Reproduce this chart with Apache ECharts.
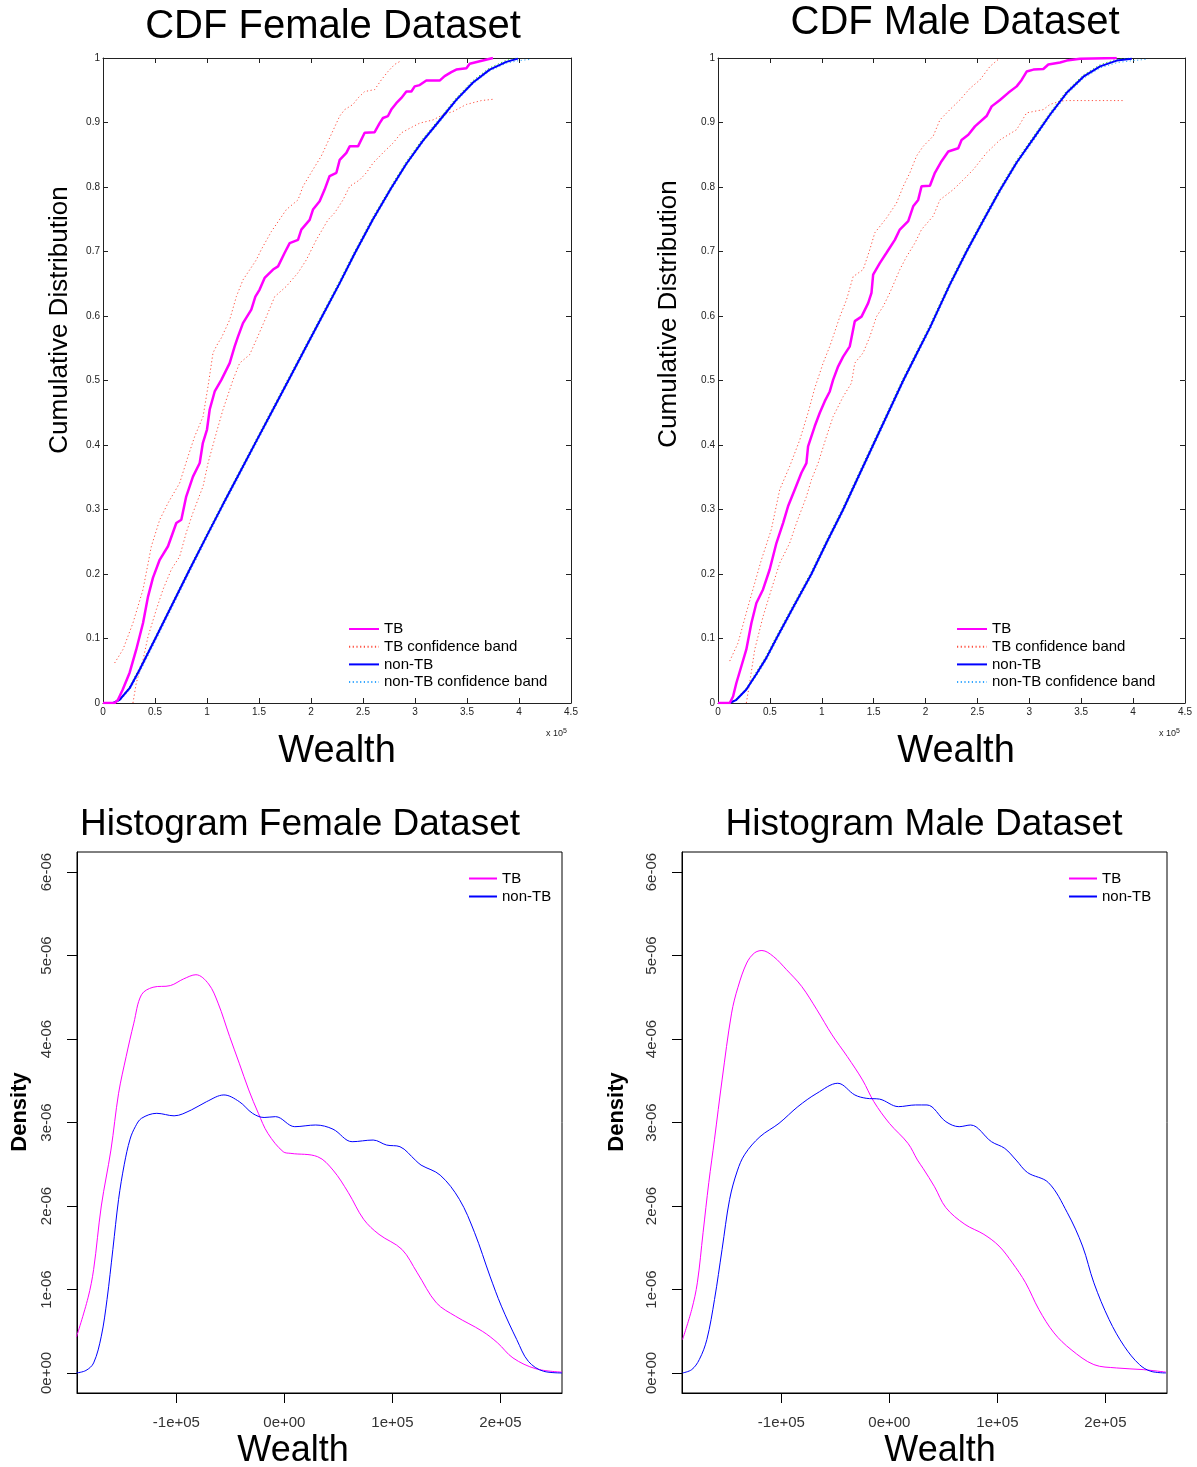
<!DOCTYPE html>
<html>
<head>
<meta charset="utf-8">
<script src="https://cdn.jsdelivr.net/npm/echarts@6/dist/echarts.min.js"></script>
<style>
  html, body { margin: 0; padding: 0; background: #fff; }
  #main { width: 1197px; height: 1467px; }
</style>
</head>
<body>
<div id="main"></div>
<script>
var chartDom = document.getElementById('main')
var myChart = echarts.init(chartDom)
var option

// CDF panels: x in units of 1e5, y cumulative share
var femaleTB = [[0,0],[0.112,0],[0.144,0.005],[0.19,0.021],[0.256,0.047],[0.32,0.083],[0.385,0.124],[0.433,0.165],[0.48,0.194],[0.545,0.222],[0.625,0.243],[0.705,0.279],[0.753,0.284],[0.80,0.32],[0.865,0.351],[0.93,0.372],[0.96,0.403],[1.0,0.424],[1.026,0.455],[1.074,0.483],[1.138,0.501],[1.218,0.527],[1.266,0.553],[1.298,0.568],[1.346,0.589],[1.426,0.610],[1.465,0.630],[1.506,0.641],[1.554,0.659],[1.635,0.672],[1.683,0.677],[1.747,0.698],[1.795,0.713],[1.875,0.718],[1.907,0.734],[1.987,0.749],[2.019,0.765],[2.083,0.778],[2.131,0.796],[2.179,0.817],[2.244,0.822],[2.276,0.842],[2.34,0.853],[2.372,0.863],[2.452,0.863],[2.516,0.884],[2.612,0.885],[2.66,0.899],[2.692,0.907],[2.74,0.91],[2.772,0.92],[2.82,0.93],[2.869,0.938],[2.917,0.948],[2.965,0.948],[2.997,0.956],[3.045,0.958],[3.109,0.965],[3.237,0.965],[3.285,0.972],[3.349,0.978],[3.397,0.982],[3.494,0.984],[3.526,0.991],[3.622,0.995],[3.75,1.0]]
var femaleTBUpper = [[0.112,0.062],[0.192,0.083],[0.288,0.124],[0.385,0.176],[0.465,0.243],[0.545,0.284],[0.625,0.310],[0.737,0.341],[0.817,0.382],[0.881,0.413],[0.962,0.444],[1.01,0.491],[1.058,0.543],[1.106,0.558],[1.138,0.566],[1.218,0.594],[1.282,0.630],[1.346,0.656],[1.474,0.687],[1.522,0.703],[1.619,0.731],[1.763,0.765],[1.875,0.780],[1.923,0.801],[2.019,0.827],[2.099,0.848],[2.179,0.876],[2.276,0.91],[2.324,0.92],[2.404,0.928],[2.452,0.938],[2.516,0.948],[2.612,0.951],[2.676,0.966],[2.74,0.979],[2.804,0.99],[2.869,0.996]]
var femaleTBLower = [[0.288,0],[0.32,0.031],[0.385,0.067],[0.433,0.103],[0.513,0.145],[0.577,0.176],[0.657,0.207],[0.737,0.227],[0.80,0.264],[0.865,0.295],[0.962,0.336],[1.01,0.372],[1.09,0.419],[1.154,0.455],[1.25,0.501],[1.314,0.527],[1.41,0.54],[1.474,0.563],[1.571,0.599],[1.651,0.630],[1.763,0.646],[1.875,0.667],[1.955,0.687],[2.051,0.718],[2.163,0.749],[2.228,0.760],[2.308,0.780],[2.372,0.801],[2.468,0.811],[2.532,0.822],[2.596,0.837],[2.692,0.853],[2.788,0.868],[2.869,0.884],[2.949,0.891],[3.045,0.899],[3.173,0.904],[3.269,0.912],[3.365,0.917],[3.494,0.928],[3.638,0.934],[3.75,0.936]]
var femaleNonTB = [[0,0],[0.096,0],[0.16,0.005],[0.256,0.023],[0.353,0.052],[0.513,0.103],[0.673,0.155],[0.833,0.207],[0.994,0.258],[1.154,0.308],[1.314,0.357],[1.474,0.406],[1.635,0.455],[1.795,0.504],[1.955,0.553],[2.115,0.602],[2.276,0.651],[2.42,0.697],[2.596,0.75],[2.77,0.798],[2.917,0.836],[3.077,0.872],[3.22,0.90],[3.397,0.935],[3.558,0.962],[3.718,0.982],[3.878,0.994],[3.99,0.999]]
var femaleNonTBUpper = [[0,0],[0.09,0],[0.155,0.005],[0.25,0.024],[0.35,0.054],[0.51,0.105],[0.67,0.157],[0.83,0.209],[0.99,0.26],[1.15,0.31],[1.31,0.359],[1.47,0.408],[1.63,0.457],[1.79,0.506],[1.95,0.555],[2.11,0.604],[2.27,0.653],[2.415,0.699],[2.59,0.752],[2.765,0.80],[2.91,0.838],[3.07,0.874],[3.215,0.902],[3.39,0.937],[3.55,0.964],[3.71,0.984],[3.87,0.996],[3.98,1.0]]
var femaleNonTBLower = [[0,0],[0.10,0],[0.165,0.004],[0.26,0.021],[0.36,0.05],[0.52,0.101],[0.68,0.153],[0.84,0.205],[1.0,0.256],[1.16,0.306],[1.32,0.355],[1.48,0.404],[1.64,0.453],[1.80,0.502],[1.96,0.551],[2.12,0.60],[2.28,0.649],[2.425,0.695],[2.60,0.748],[2.775,0.796],[2.92,0.834],[3.08,0.87],[3.225,0.898],[3.40,0.933],[3.56,0.96],[3.72,0.98],[3.88,0.992],[4.0,0.996],[4.12,0.998]]

var maleTB = [[0,0],[0.113,0],[0.145,0.01],[0.177,0.031],[0.225,0.057],[0.273,0.083],[0.322,0.124],[0.37,0.155],[0.434,0.176],[0.498,0.207],[0.563,0.248],[0.627,0.279],[0.675,0.305],[0.74,0.331],[0.804,0.357],[0.852,0.372],[0.868,0.398],[0.932,0.429],[0.981,0.450],[1.029,0.468],[1.077,0.483],[1.109,0.501],[1.158,0.522],[1.206,0.537],[1.27,0.553],[1.286,0.566],[1.318,0.592],[1.383,0.599],[1.447,0.62],[1.479,0.636],[1.495,0.664],[1.559,0.682],[1.624,0.698],[1.704,0.718],[1.752,0.734],[1.833,0.747],[1.881,0.770],[1.929,0.780],[1.961,0.801],[2.042,0.802],[2.09,0.822],[2.154,0.840],[2.219,0.855],[2.315,0.860],[2.347,0.873],[2.412,0.881],[2.476,0.894],[2.588,0.91],[2.637,0.925],[2.717,0.935],[2.797,0.946],[2.878,0.956],[2.926,0.966],[2.974,0.979],[3.039,0.982],[3.135,0.983],[3.183,0.99],[3.296,0.993],[3.36,0.996],[3.489,0.999],[3.842,1.0]]
var maleTBUpper = [[0.113,0.065],[0.193,0.093],[0.273,0.14],[0.354,0.186],[0.418,0.222],[0.514,0.269],[0.595,0.331],[0.691,0.367],[0.788,0.408],[0.868,0.45],[0.932,0.488],[1.013,0.527],[1.077,0.553],[1.109,0.568],[1.174,0.599],[1.238,0.625],[1.302,0.661],[1.399,0.672],[1.463,0.703],[1.511,0.729],[1.624,0.752],[1.72,0.775],[1.785,0.801],[1.849,0.822],[1.913,0.848],[1.977,0.863],[2.074,0.879],[2.138,0.904],[2.235,0.92],[2.331,0.935],[2.428,0.953],[2.524,0.966],[2.621,0.987],[2.717,1.0]]
var maleTBLower = [[0.273,0],[0.305,0.031],[0.354,0.083],[0.434,0.134],[0.514,0.176],[0.595,0.217],[0.691,0.248],[0.756,0.279],[0.852,0.32],[0.9,0.346],[0.965,0.372],[1.045,0.413],[1.109,0.444],[1.206,0.475],[1.286,0.496],[1.318,0.527],[1.399,0.543],[1.463,0.568],[1.527,0.599],[1.592,0.615],[1.656,0.636],[1.752,0.672],[1.817,0.692],[1.897,0.713],[1.961,0.734],[2.074,0.755],[2.138,0.780],[2.267,0.796],[2.363,0.811],[2.46,0.827],[2.588,0.853],[2.717,0.873],[2.878,0.889],[2.974,0.915],[3.135,0.92],[3.199,0.928],[3.296,0.933],[3.36,0.934],[3.907,0.934]]
var maleNonTB = [[0,0],[0.113,0],[0.177,0.005],[0.273,0.021],[0.37,0.045],[0.466,0.07],[0.563,0.10],[0.73,0.15],[0.9,0.20],[1.05,0.25],[1.206,0.30],[1.35,0.35],[1.495,0.40],[1.64,0.45],[1.785,0.50],[1.913,0.541],[2.042,0.582],[2.14,0.616],[2.235,0.649],[2.395,0.70],[2.556,0.748],[2.717,0.795],[2.878,0.838],[3.039,0.875],[3.199,0.912],[3.36,0.946],[3.521,0.971],[3.682,0.987],[3.842,0.996],[3.987,0.999]]
var maleNonTBUpper = [[0,0],[0.108,0],[0.172,0.006],[0.268,0.022],[0.365,0.047],[0.46,0.072],[0.557,0.102],[0.724,0.152],[0.894,0.202],[1.044,0.252],[1.2,0.302],[1.344,0.352],[1.489,0.402],[1.634,0.452],[1.779,0.502],[1.907,0.543],[2.036,0.584],[2.134,0.618],[2.229,0.651],[2.389,0.702],[2.55,0.75],[2.711,0.797],[2.872,0.84],[3.033,0.877],[3.193,0.914],[3.354,0.948],[3.515,0.973],[3.676,0.989],[3.836,0.998],[3.98,1.0]]
var maleNonTBLower = [[0,0],[0.118,0],[0.182,0.004],[0.278,0.02],[0.375,0.043],[0.472,0.068],[0.569,0.098],[0.736,0.148],[0.906,0.198],[1.056,0.248],[1.212,0.298],[1.356,0.348],[1.501,0.398],[1.646,0.448],[1.791,0.498],[1.919,0.539],[2.048,0.58],[2.146,0.614],[2.241,0.647],[2.401,0.698],[2.562,0.746],[2.723,0.793],[2.884,0.836],[3.045,0.873],[3.205,0.91],[3.366,0.944],[3.527,0.969],[3.688,0.985],[3.85,0.993],[4.0,0.996],[4.13,0.998]]

// density panels: x in units of 1e5, y in units of 1e-6
var histXTicks = [-1, 0, 1, 2]
var histYTicks = [0, 1, 2, 3, 4, 5, 6]

var femaleDensTB = [[-1.925,0.43],[-1.818,0.90],[-1.766,1.24],[-1.695,2.0],[-1.606,2.67],[-1.535,3.35],[-1.465,3.79],[-1.394,4.19],[-1.323,4.53],[-1.216,4.62],[-1.056,4.64],[-0.933,4.72],[-0.819,4.77],[-0.702,4.66],[-0.614,4.43],[-0.507,4.03],[-0.418,3.71],[-0.33,3.39],[-0.241,3.11],[-0.153,2.87],[-0.011,2.65],[0.06,2.63],[0.308,2.59],[0.45,2.43],[0.592,2.16],[0.734,1.84],[0.876,1.66],[1.088,1.48],[1.23,1.20],[1.407,0.84],[1.584,0.68],[1.832,0.50],[1.974,0.36],[2.116,0.18],[2.329,0.05],[2.57,0.01]]
var femaleDensNonTB = [[-1.925,0.0],[-1.837,0.03],[-1.766,0.12],[-1.695,0.44],[-1.642,0.88],[-1.588,1.48],[-1.535,2.08],[-1.482,2.50],[-1.429,2.80],[-1.38,2.95],[-1.323,3.05],[-1.181,3.11],[-1.021,3.08],[-0.862,3.15],[-0.72,3.25],[-0.56,3.33],[-0.418,3.25],[-0.295,3.11],[-0.188,3.06],[-0.082,3.07],[0.096,2.95],[0.29,2.97],[0.45,2.92],[0.627,2.77],[0.822,2.79],[0.946,2.73],[1.07,2.71],[1.212,2.55],[1.265,2.49],[1.442,2.37],[1.62,2.08],[1.761,1.68],[1.903,1.16],[2.009,0.80],[2.151,0.40],[2.258,0.14],[2.4,0.02],[2.57,0.0]]
var maleDensTB = [[-1.915,0.40],[-1.83,0.76],[-1.778,1.08],[-1.725,1.68],[-1.672,2.28],[-1.619,2.80],[-1.549,3.51],[-1.461,4.31],[-1.402,4.62],[-1.321,4.91],[-1.25,5.03],[-1.18,5.06],[-1.075,4.99],[-0.952,4.83],[-0.812,4.63],[-0.671,4.35],[-0.531,4.05],[-0.39,3.79],[-0.249,3.51],[-0.144,3.25],[0.0,2.99],[0.172,2.75],[0.26,2.55],[0.312,2.45],[0.418,2.23],[0.523,1.98],[0.699,1.78],[0.875,1.66],[1.015,1.52],[1.138,1.32],[1.261,1.08],[1.384,0.76],[1.524,0.48],[1.682,0.28],[1.893,0.10],[2.104,0.06],[2.35,0.04],[2.56,0.01]]
var maleDensNonTB = [[-1.915,0.0],[-1.83,0.04],[-1.76,0.16],[-1.69,0.40],[-1.619,0.88],[-1.549,1.48],[-1.479,2.08],[-1.408,2.42],[-1.338,2.62],[-1.198,2.83],[-1.022,2.99],[-0.847,3.19],[-0.671,3.35],[-0.478,3.47],[-0.32,3.33],[-0.215,3.29],[-0.091,3.28],[0.084,3.19],[0.242,3.21],[0.348,3.21],[0.523,3.01],[0.646,2.95],[0.752,2.97],[0.945,2.77],[1.068,2.69],[1.173,2.55],[1.279,2.40],[1.472,2.28],[1.647,1.92],[1.788,1.52],[1.893,1.08],[2.034,0.64],[2.174,0.32],[2.315,0.10],[2.42,0.02],[2.56,0.0]]

var FONT = 'Liberation Sans, Arial, sans-serif'
var cdfLegendNames = ['TB', 'TB confidence band', 'non-TB', 'non-TB confidence band']
var histLegendNames = ['TB', 'non-TB']

function cdfX(gridIndex) {
  return [
    {
      gridIndex: gridIndex, type: 'value', min: 0, max: 4.5, interval: 0.5, position: 'bottom',
      axisLine: { onZero: false, lineStyle: { color: '#222', width: 1 } },
      axisTick: { inside: true, length: 5, lineStyle: { color: '#222' } },
      axisLabel: { margin: 4, fontSize: 10, fontFamily: FONT, color: '#222', showMinLabel: true, showMaxLabel: true },
      splitLine: { show: false }
    },
    {
      gridIndex: gridIndex, type: 'value', min: 0, max: 4.5, interval: 0.5, position: 'top',
      axisLine: { onZero: false, lineStyle: { color: '#222', width: 1 } },
      axisTick: { inside: true, length: 5, lineStyle: { color: '#222' } },
      axisLabel: { show: false }, splitLine: { show: false }
    }
  ]
}
function cdfY(gridIndex) {
  return [
    {
      gridIndex: gridIndex, type: 'value', min: 0, max: 1, interval: 0.1, position: 'left',
      axisLine: { show: true, onZero: false, lineStyle: { color: '#222', width: 1 } },
      axisTick: { show: true, inside: true, length: 5, lineStyle: { color: '#222' } },
      axisLabel: {
        margin: 3, fontSize: 10, fontFamily: FONT, color: '#222',
        formatter: function (v) { return v === 0 ? '0' : v === 1 ? '1' : v.toFixed(1) }
      },
      splitLine: { show: false }
    },
    {
      gridIndex: gridIndex, type: 'value', min: 0, max: 1, interval: 0.1, position: 'right',
      axisLine: { show: true, onZero: false, lineStyle: { color: '#222', width: 1 } },
      axisTick: { show: true, inside: true, length: 5, lineStyle: { color: '#222' } },
      axisLabel: { show: false }, splitLine: { show: false }
    }
  ]
}
function histX(gridIndex) {
  return {
    gridIndex: gridIndex, type: 'value', min: -1.92, max: 2.57,
    axisLine: { onZero: false, lineStyle: { color: '#000', width: 1 } },
    axisTick: { length: 10, customValues: histXTicks, lineStyle: { color: '#000' } },
    axisLabel: {
      margin: 22, fontSize: 15, fontFamily: FONT, color: '#333', customValues: histXTicks,
      formatter: function (v) { return v === 0 ? '0e+00' : (v < 0 ? '-' : '') + Math.abs(v) + 'e+05' }
    },
    splitLine: { show: false }
  }
}
function histY(gridIndex) {
  return {
    gridIndex: gridIndex, type: 'value', min: -0.24, max: 6.24,
    axisLine: { show: true, onZero: false, lineStyle: { color: '#000', width: 1 } },
    axisTick: { show: true, length: 10, customValues: histYTicks, lineStyle: { color: '#000' } },
    axisLabel: {
      rotate: 90, margin: 23, fontSize: 15, fontFamily: FONT, color: '#333', customValues: histYTicks,
      formatter: function (v) { return v === 0 ? '0e+00' : v + 'e-06' }
    },
    splitLine: { show: false }
  }
}

function line(name, data, xi, yi, color, width, dotted, z, smooth) {
  return {
    name: name, type: 'line', xAxisIndex: xi, yAxisIndex: yi, data: data,
    symbol: 'none', smooth: smooth || false, silent: true, z: z || 2,
    lineStyle: { color: color, width: width, type: dotted ? [1.2, 2.5] : 'solid' },
    itemStyle: { color: color }
  }
}

function cdfLegend(left) {
  return {
    data: cdfLegendNames, orient: 'vertical', left: left, top: 621.5, padding: 0,
    itemWidth: 30, itemHeight: 12, itemGap: 2.7, itemTextGap: 5,
    itemStyle: { opacity: 0 },
    textStyle: { fontSize: 15, lineHeight: 15, fontFamily: FONT, color: '#000' },
    selectedMode: false
  }
}
function histLegend(left) {
  return {
    data: histLegendNames, orient: 'vertical', left: left, top: 871, padding: 0,
    itemWidth: 28, itemHeight: 12, itemGap: 3, itemTextGap: 3,
    itemStyle: { opacity: 0 },
    textStyle: { fontSize: 15, lineHeight: 15, fontFamily: FONT, color: '#000' },
    selectedMode: false
  }
}

function label(text, x, y, size, opts) {
  opts = opts || {}
  return {
    type: 'text', x: x, y: y, rotation: opts.rotation || 0, silent: true,
    style: {
      text: text, fill: '#000', font: (opts.bold ? 'bold ' : '') + size + 'px ' + FONT,
      textAlign: 'center', textVerticalAlign: 'middle'
    }
  }
}
function exponent(x, y) {
  return {
    type: 'text', x: x, y: y, silent: true,
    style: {
      text: '{a|x 10}{b|5}', textVerticalAlign: 'middle',
      rich: {
        a: { fontSize: 9, fontFamily: FONT, fill: '#222' },
        b: { fontSize: 7, fontFamily: FONT, fill: '#222', verticalAlign: 'top', padding: [0, 0, 6, 0] }
      }
    }
  }
}

option = {
  animation: false,
  backgroundColor: '#fff',
  grid: [
    { left: 103, top: 58, width: 468, height: 645 },
    { left: 718, top: 58, width: 467, height: 645 },
    { left: 77, top: 852, width: 485, height: 541, show: true, borderColor: '#000', borderWidth: 1 },
    { left: 682, top: 852, width: 485, height: 541, show: true, borderColor: '#000', borderWidth: 1 }
  ],
  xAxis: [].concat(cdfX(0), cdfX(1), [histX(2), histX(3)]),
  yAxis: [].concat(cdfY(0), cdfY(1), [histY(2), histY(3)]),
  legend: [cdfLegend(348), cdfLegend(956), histLegend(468), histLegend(1068)],
  graphic: [
    label('CDF Female Dataset', 333, 27, 40),
    label('CDF Male Dataset', 955, 23, 40),
    label('Cumulative Distribution', 60, 320, 26, { rotation: Math.PI / 2 }),
    label('Cumulative Distribution', 669, 314, 26, { rotation: Math.PI / 2 }),
    label('Wealth', 337, 752, 38),
    label('Wealth', 956, 752, 38),
    exponent(546, 734),
    exponent(1159, 734),
    label('Histogram Female Dataset', 300, 825, 37),
    label('Histogram Male Dataset', 924, 825, 37),
    label('Density', 20, 1112, 22, { rotation: Math.PI / 2, bold: true }),
    label('Density', 617, 1112, 22, { rotation: Math.PI / 2, bold: true }),
    label('Wealth', 293, 1451, 36),
    label('Wealth', 940, 1451, 36)
  ],
  series: [
    line('non-TB confidence band', femaleNonTBLower, 0, 0, '#33a6ff', 1, true, 1),
    line('non-TB confidence band', femaleNonTBUpper, 0, 0, '#22cc22', 1, true, 1),
    line('TB confidence band', femaleTBUpper, 0, 0, '#ff5040', 1, true, 2),
    line('TB confidence band', femaleTBLower, 0, 0, '#ff5040', 1, true, 2),
    line('non-TB', femaleNonTB, 0, 0, '#0000ff', 2, false, 3),
    line('TB', femaleTB, 0, 0, '#ff00ff', 2.5, false, 4),

    line('non-TB confidence band', maleNonTBLower, 2, 2, '#33a6ff', 1, true, 1),
    line('non-TB confidence band', maleNonTBUpper, 2, 2, '#22cc22', 1, true, 1),
    line('TB confidence band', maleTBUpper, 2, 2, '#ff5040', 1, true, 2),
    line('TB confidence band', maleTBLower, 2, 2, '#ff5040', 1, true, 2),
    line('non-TB', maleNonTB, 2, 2, '#0000ff', 2, false, 3),
    line('TB', maleTB, 2, 2, '#ff00ff', 2.5, false, 4),

    line('TB', femaleDensTB, 4, 4, '#ff00ff', 1, false, 3, 0.35),
    line('non-TB', femaleDensNonTB, 4, 4, '#0000ff', 1, false, 3, 0.35),
    line('TB', maleDensTB, 5, 5, '#ff00ff', 1, false, 3, 0.35),
    line('non-TB', maleDensNonTB, 5, 5, '#0000ff', 1, false, 3, 0.35)
  ]
}

option && myChart.setOption(option)
</script>
</body>
</html>
